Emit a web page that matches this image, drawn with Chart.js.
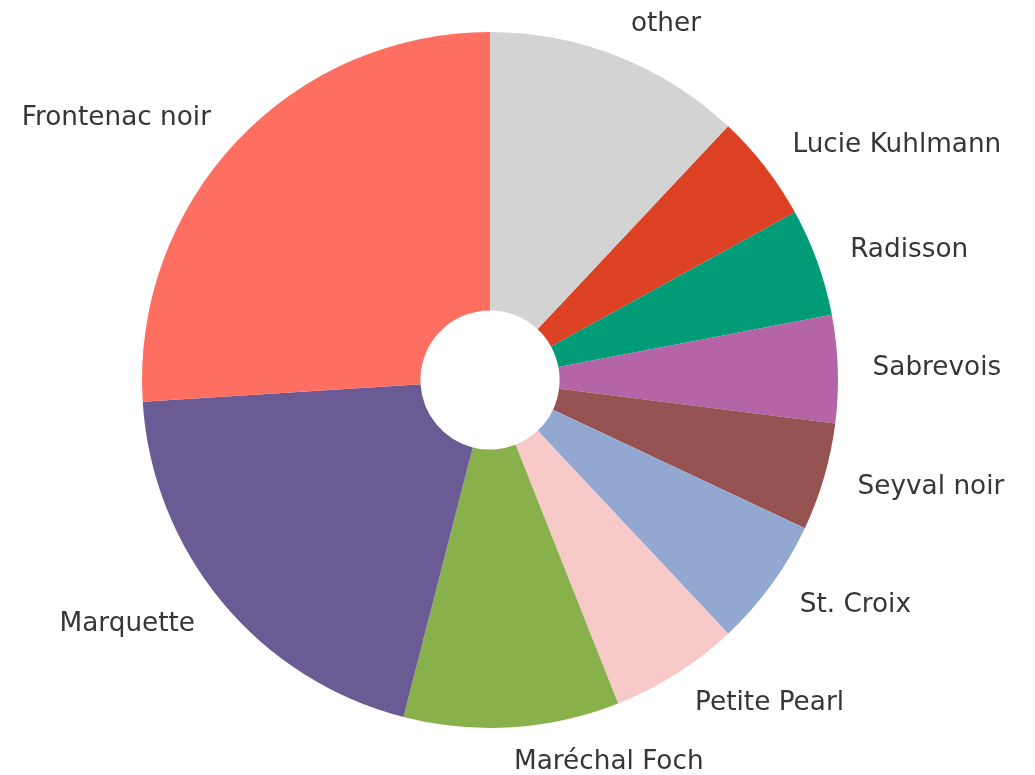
<!DOCTYPE html>
<html>
<head>
<meta charset="utf-8">
<title>Grape varieties</title>
<script src="https://cdn.jsdelivr.net/npm/chart.js@4/dist/chart.umd.min.js"></script>
<style>
    html, body { margin: 0; padding: 0; background: #fff; }
    #wrap { width: 1035px; height: 775px; position: relative; }
</style>
</head>
<body>
<div id="wrap"><canvas id="pieChart"></canvas></div>
<script>
var varieties = [
    'other',
    'Lucie Kuhlmann',
    'Radisson',
    'Sabrevois',
    'Seyval noir',
    'St. Croix',
    'Petite Pearl',
    'Maréchal Foch',
    'Marquette',
    'Frontenac noir'
]
var shares = [12, 5, 5, 5, 5, 6, 6, 10, 20, 26]
var sliceColors = [
    '#d3d3d3', '#dd4124', '#009b77', '#b565a7', '#955251',
    '#92a8d1', '#f7cac9', '#88b04b', '#6b5b95', '#ff6f61'
]

// labels sit just outside each wedge, left/right aligned by side
var outsideLabels = {
    id: 'outsideLabels',
    afterDatasetsDraw: function (chart) {
        var ctx = chart.ctx
        var meta = chart.getDatasetMeta(0)
        ctx.save()
        ctx.font = '26.3px "DejaVu Sans"'
        ctx.fillStyle = '#363636'
        ctx.textBaseline = 'middle'
        meta.data.forEach(function (arc, i) {
            var p = arc.getProps(['x', 'y', 'startAngle', 'endAngle', 'outerRadius'], true)
            var mid = (p.startAngle + p.endAngle) / 2
            var r = p.outerRadius * 1.1
            var cx = Math.cos(mid)
            var x = p.x + r * cx
            var y = p.y + r * Math.sin(mid)
            ctx.textAlign = cx > 0.0001 ? 'left' : (cx < -0.0001 ? 'right' : 'center')
            ctx.fillText(chart.data.labels[i], x, y)
        })
        ctx.restore()
    }
}

var pieChartCanvas = document.getElementById('pieChart').getContext('2d')
new Chart(pieChartCanvas, {
    type: 'doughnut',
    data: {
        labels: varieties,
        datasets: [{
            data: shares,
            backgroundColor: sliceColors,
            borderWidth: 0
        }]
    },
    options: {
        responsive: true,
        maintainAspectRatio: false,
        animation: false,
        cutout: '20%',
        layout: {
            padding: { left: 142, right: 197, top: 32, bottom: 47 }
        },
        plugins: {
            legend: { display: false },
            tooltip: { enabled: false }
        }
    },
    plugins: [outsideLabels]
})
</script>
</body>
</html>
